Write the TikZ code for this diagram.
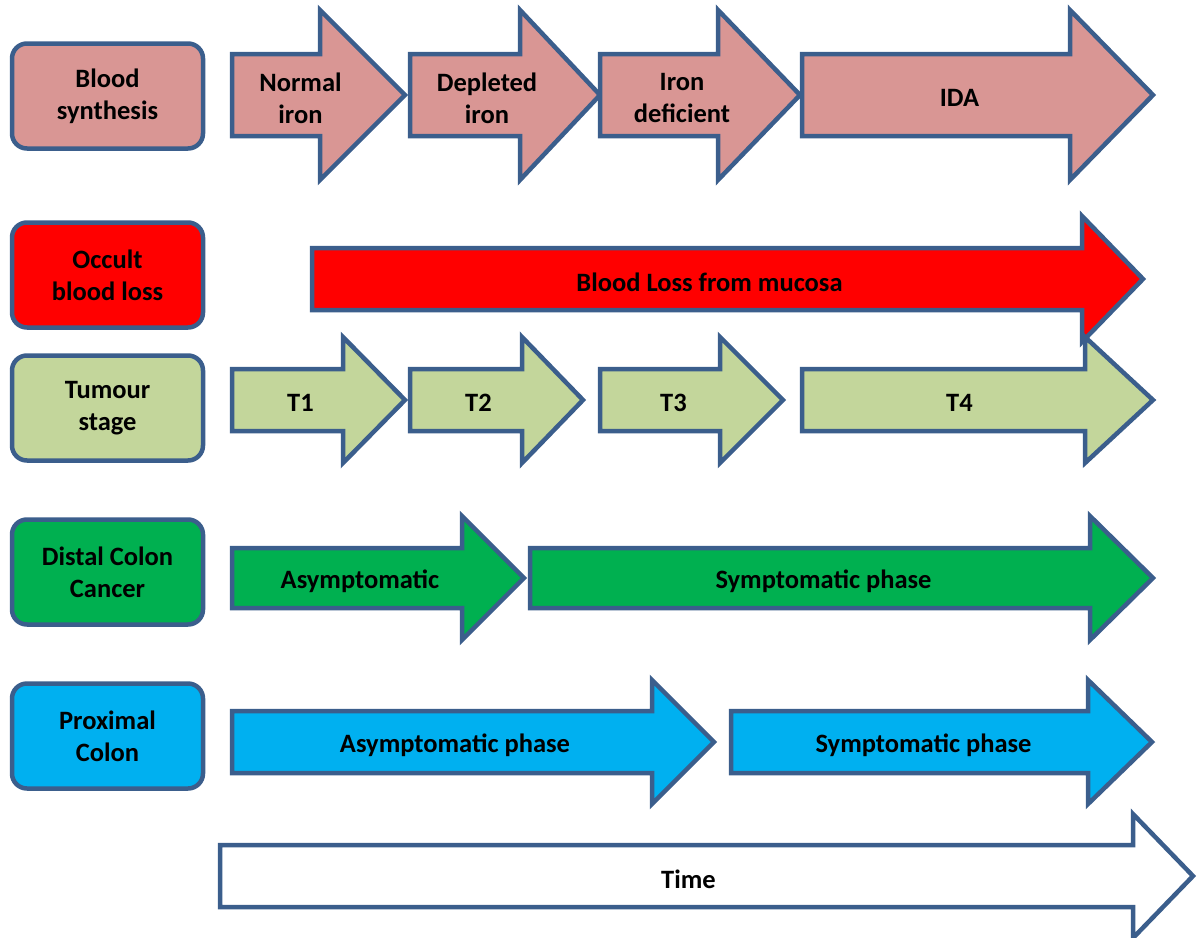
\documentclass[tikz,border=0pt]{standalone}
\usepackage{fontspec}
\setmainfont{Carlito}
\usepackage{tikz}
\usetikzlibrary{calc,positioning}
\definecolor{edgeblue}{HTML}{3B5E8C}
\definecolor{rosefill}{HTML}{D99694}
\definecolor{bloodred}{HTML}{FF0000}
\definecolor{sagefill}{HTML}{C3D69B}
\definecolor{leafgreen}{HTML}{00B050}
\definecolor{skyblue}{HTML}{00B0F0}
\tikzset{
    rowlabel/.style={draw=edgeblue, line width=4.5pt, rounded corners=15pt,
        minimum width=191pt, minimum height=105pt, align=center,
        font=\fontsize{26.5}{32}\selectfont\bfseries},
    phasetext/.style={align=center, font=\fontsize{26.5}{32}\selectfont\bfseries},
    phaseshape/.style={draw=edgeblue, line width=4.5pt, line join=miter},
}
% #1 name, #2 fill, #3 left x, #4 head base x, #5 tip x, #6 centre y,
% #7 half body, #8 half head, #9 text
\newcommand{\phasearrow}[9]{%
    \draw[phaseshape, fill=#2]
        (#3,#6-#7) -- (#4,#6-#7) -- (#4,#6-#8) -- (#5,#6)
        -- (#4,#6+#8) -- (#4,#6+#7) -- (#3,#6+#7) -- cycle;
    \node[phasetext] (#1) at ({(#3+#5)/2-18},#6+3) {#9};
}

\begin{document}
\begin{tikzpicture}[x=1pt,y=-1pt]
        \useasboundingbox (0,0) rectangle (1201,937);
        % row labels
        \node[rowlabel, fill=rosefill] (synth) at (107.5,96) {Blood\\synthesis};
        \node[rowlabel, fill=bloodred] (occult) at (107.5,275) {Occult\\blood loss};
        \node[rowlabel, fill=sagefill] (tumour) at (107.5,408) {Tumour\\stage};
        \node[rowlabel, fill=leafgreen] (distal) at (107.5,572) {Distal Colon\\Cancer};
        \node[rowlabel, fill=skyblue] (proximal) at (107.5,736) {Proximal\\Colon};
        % blood synthesis
        \phasearrow{normal}{rosefill}{232}{320}{405}{95}{41}{85}{Normal\\iron}
        \phasearrow{depleted}{rosefill}{410}{520}{600}{95}{41}{85}{Depleted\\iron}
        \phasearrow{deficient}{rosefill}{600}{718}{800}{95}{41}{85}{Iron\\deficient}
        \phasearrow{ida}{rosefill}{802}{1070}{1153}{95}{41}{85}{IDA}
        % occult blood loss
        \phasearrow{mucosa}{bloodred}{312}{1082}{1143}{279}{31}{63}{Blood Loss from mucosa}
        % tumour stage
        \phasearrow{t_1}{sagefill}{232}{343}{405}{400}{31}{63}{T1}
        \phasearrow{t_2}{sagefill}{410}{522}{583}{400}{31}{63}{T2}
        \phasearrow{t_3}{sagefill}{600}{720}{783}{400}{31}{63}{T3}
        \phasearrow{t_4}{sagefill}{802}{1085}{1153}{400}{31}{63}{T4}
        % distal colon
        \phasearrow{dasym}{leafgreen}{232}{462}{524}{578}{30}{62}{Asymptomatic}
        \phasearrow{dsym}{leafgreen}{530}{1090}{1153}{578}{30}{62}{Symptomatic phase}
        % proximal colon
        \phasearrow{pasym}{skyblue}{232}{652}{714}{742}{31}{62}{Asymptomatic phase}
        \phasearrow{psym}{skyblue}{731}{1088}{1152}{742}{31}{62}{Symptomatic phase}
        % time axis
        \phasearrow{time}{white}{220}{1133}{1193}{876}{31}{62}{Time}
\end{tikzpicture}
\end{document}
